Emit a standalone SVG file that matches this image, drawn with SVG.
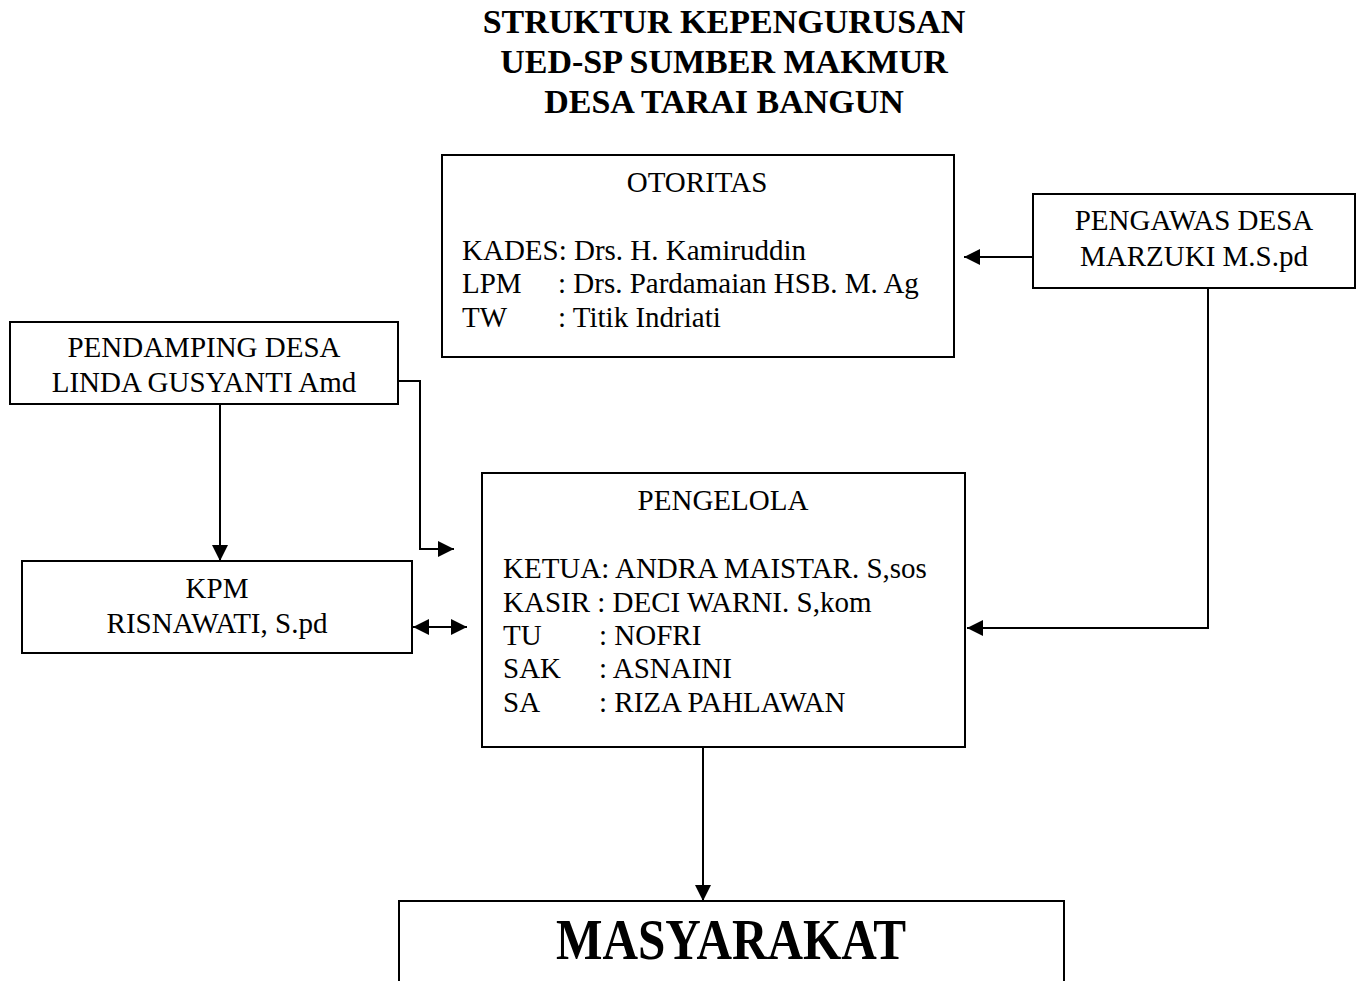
<svg xmlns="http://www.w3.org/2000/svg" width="1356" height="981" viewBox="0 0 1356 981">
<defs>
<marker id="ah" viewBox="0 0 16 16" refX="16" refY="8" markerWidth="16" markerHeight="16" markerUnits="userSpaceOnUse" orient="auto-start-reverse">
<path d="M0,0 L16,8 L0,16 Z" fill="#000"/>
</marker>
<style>
.box{fill:#fff;stroke:#000;stroke-width:2}
.t{font-family:"Liberation Serif","Times New Roman",serif;font-size:29px;fill:#000}
.c{text-anchor:middle}
.title{font-family:"Liberation Serif","Times New Roman",serif;font-size:34px;font-weight:bold;text-anchor:middle;fill:#000}
.ln{fill:none;stroke:#000;stroke-width:2}
</style>
</defs>
<rect width="1356" height="981" fill="#fff"/>
<g id="title">
<text class="title" x="724" y="33">STRUKTUR KEPENGURUSAN</text>
<text class="title" x="724" y="73">UED-SP SUMBER MAKMUR</text>
<text class="title" x="724" y="113">DESA TARAI BANGUN</text>
</g>
<g id="otoritas">
<rect class="box" x="442" y="155" width="512" height="202"/>
<text class="t c" x="697" y="192">OTORITAS</text>
<text class="t" x="462" y="260">KADES: Drs. H. Kamiruddin</text>
<text class="t" x="462" y="293">LPM<tspan x="558">: Drs. Pardamaian HSB. M. Ag</tspan></text>
<text class="t" x="462" y="327">TW<tspan x="558">: Titik Indriati</tspan></text>
</g>
<g id="pengawas">
<rect class="box" x="1033" y="194" width="322" height="94"/>
<text class="t c" x="1194" y="230">PENGAWAS DESA</text>
<text class="t c" x="1194" y="266">MARZUKI M.S.pd</text>
</g>
<g id="pendamping">
<rect class="box" x="10" y="322" width="388" height="82"/>
<text class="t c" x="204" y="357">PENDAMPING DESA</text>
<text class="t c" x="204" y="392">LINDA GUSYANTI Amd</text>
</g>
<g id="kpm">
<rect class="box" x="22" y="561" width="390" height="92"/>
<text class="t c" x="217" y="598">KPM</text>
<text class="t c" x="217" y="633">RISNAWATI, S.pd</text>
</g>
<g id="pengelola">
<rect class="box" x="482" y="473" width="483" height="274"/>
<text class="t c" x="723" y="510">PENGELOLA</text>
<text class="t" x="503" y="578">KETUA: ANDRA MAISTAR. S,sos</text>
<text class="t" x="503" y="612">KASIR : DECI WARNI. S,kom</text>
<text class="t" x="503" y="645">TU<tspan x="599">: NOFRI</tspan></text>
<text class="t" x="503" y="678">SAK<tspan x="599">: ASNAINI</tspan></text>
<text class="t" x="503" y="712">SA<tspan x="599">: RIZA PAHLAWAN</tspan></text>
</g>
<g id="masyarakat">
<rect class="box" x="399" y="901" width="665" height="100"/>
<text x="731" y="959" text-anchor="middle" font-family="Liberation Serif,'Times New Roman',serif" font-weight="bold" font-size="58" textLength="350" lengthAdjust="spacingAndGlyphs">MASYARAKAT</text>
</g>
<g id="connectors">
<path class="ln" d="M1033,257 L964,257" marker-end="url(#ah)"/>
<path class="ln" d="M1208,288 L1208,628 L967,628" marker-end="url(#ah)"/>
<path class="ln" d="M220,404 L220,561" marker-end="url(#ah)"/>
<path class="ln" d="M398,381 L420,381 L420,549 L454,549" marker-end="url(#ah)"/>
<path class="ln" d="M413,627 L467,627" marker-start="url(#ah)" marker-end="url(#ah)"/>
<path class="ln" d="M703,747 L703,901" marker-end="url(#ah)"/>
</g>
</svg>
